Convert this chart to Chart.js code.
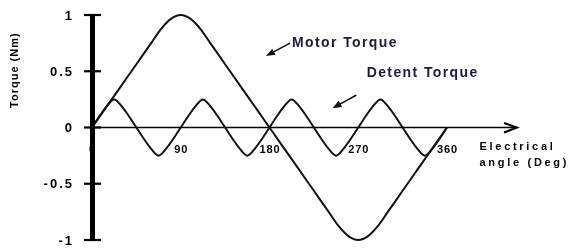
<!DOCTYPE html>
<html lang="en">
<head>
<meta charset="UTF-8">
<title>Motor and Detent Torque</title>
<script src="https://cdn.jsdelivr.net/npm/chart.js"></script>
<style>
  html, body { margin: 0; padding: 0; background: #fff; }
  #wrap { width: 570px; height: 251px; }
</style>
</head>
<body>
<div id="wrap"><canvas id="chart" width="570" height="251"></canvas></div>
<script>
// values
const motorAngles = [0,10,20,30,40,50,60,70,80,90,100,110,120,130,140,150,160,170,180,
  190,200,210,220,230,240,250,260,270,280,290,300,310,320,330,340,350,360];
const motorTorque = [0,0.125,0.25,0.375,0.5,0.625,0.75,0.875,0.965,1,0.965,0.875,0.75,0.625,0.5,0.375,0.25,0.125,0,
  -0.125,-0.25,-0.375,-0.5,-0.625,-0.75,-0.875,-0.965,-1,-0.965,-0.875,-0.75,-0.625,-0.5,-0.375,-0.25,-0.125,0];

const detentAngles = [0,7.5,15,22.5,30,37.5,45,52.5,60,67.5,75,82.5,
  90,97.5,105,112.5,120,127.5,135,142.5,150,157.5,165,172.5,
  180,187.5,195,202.5,210,217.5,225,232.5,240,247.5,255,262.5,
  270,277.5,285,292.5,300,307.5,315,322.5,330,337.5,345,352.5,360];
const detentTorque = [0,0.1,0.19,0.25,0.19,0.1,0,-0.1,-0.19,-0.25,-0.19,-0.1,
  0,0.1,0.19,0.25,0.19,0.1,0,-0.1,-0.19,-0.25,-0.19,-0.1,
  0,0.1,0.19,0.25,0.19,0.1,0,-0.1,-0.19,-0.25,-0.19,-0.1,
  0,0.1,0.19,0.25,0.19,0.1,0,-0.1,-0.19,-0.25,-0.19,-0.1,0];

const xTicks = [0, 90, 180, 270, 360];
const xTickLabels = ['0', '90', '180', '270', '360'];
const yTicks = [1, 0.5, 0, -0.5, -1];
const yTickLabels = ['1', '0.5', '0', '-0.5', '-1'];
const xTitle = ['Electrical', 'angle (Deg)'];
const yTitle = 'Torque (Nm)';
const seriesNames = ['Motor Torque', 'Detent Torque'];

const FONT = '"Liberation Sans", Arial, sans-serif';

function arrow(ctx, x1, y1, x2, y2) {
  const a = Math.atan2(y2 - y1, x2 - x1);
  ctx.lineWidth = 1.6;
  ctx.beginPath(); ctx.moveTo(x1, y1); ctx.lineTo(x2 - 6 * Math.cos(a), y2 - 6 * Math.sin(a)); ctx.stroke();
  ctx.beginPath();
  ctx.moveTo(x2, y2);
  ctx.lineTo(x2 - 9 * Math.cos(a) + 3.5 * Math.sin(a), y2 - 9 * Math.sin(a) - 3.5 * Math.cos(a));
  ctx.lineTo(x2 - 9 * Math.cos(a) - 3.5 * Math.sin(a), y2 - 9 * Math.sin(a) + 3.5 * Math.cos(a));
  ctx.closePath(); ctx.fill();
}

const axesPlugin = {
  id: 'axes',
  beforeDatasetsDraw(chart) {
    const { ctx, scales: { x, y } } = chart;
    const x0 = x.getPixelForValue(0), y0 = y.getPixelForValue(0);
    ctx.save();
    ctx.fillStyle = '#000';
    ctx.strokeStyle = '#000';

    // x tick labels (the 0 ends up under the y axis)
    ctx.font = 'bold 11px ' + FONT;
    ctx.letterSpacing = '0.8px';
    ctx.textAlign = 'center';
    ctx.textBaseline = 'middle';
    xTicks.forEach((v, i) => ctx.fillText(xTickLabels[i], x.getPixelForValue(v) + 0.5, y0 + 22));

    // x axis with open arrow head
    const xEnd = x.getPixelForValue(431);
    ctx.lineWidth = 1.5;
    ctx.beginPath(); ctx.moveTo(x0, y0); ctx.lineTo(xEnd, y0); ctx.stroke();
    ctx.lineWidth = 2;
    ctx.beginPath();
    ctx.moveTo(xEnd - 13, y0 - 4.5); ctx.lineTo(xEnd, y0); ctx.lineTo(xEnd - 13, y0 + 5);
    ctx.stroke();

    // thick y axis
    ctx.lineWidth = 5;
    ctx.beginPath();
    ctx.moveTo(x0 + 0.5, y.getPixelForValue(1) - 1);
    ctx.lineTo(x0 + 0.5, y.getPixelForValue(-1) + 1);
    ctx.stroke();
    ctx.lineWidth = 2.2;
    ctx.font = 'bold 13px ' + FONT;
    ctx.letterSpacing = '2px';
    ctx.textAlign = 'right';
    yTicks.forEach((v, i) => {
      const py = y.getPixelForValue(v);
      ctx.beginPath(); ctx.moveTo(x0 - 8, py); ctx.lineTo(x0 + 9, py); ctx.stroke();
      ctx.fillText(yTickLabels[i], x0 - 18, py + 1);
    });

    // y title
    ctx.save();
    ctx.translate(x.getPixelForValue(-78.6), y.getPixelForValue(0.51));
    ctx.rotate(-Math.PI / 2);
    ctx.font = 'bold 11px ' + FONT;
    ctx.letterSpacing = '1px';
    ctx.textAlign = 'center';
    ctx.fillText(yTitle, 0, 0);
    ctx.restore();

    // x title
    ctx.font = 'bold 11px ' + FONT;
    ctx.letterSpacing = '2.7px';
    ctx.textAlign = 'left';
    ctx.fillText(xTitle[0], x.getPixelForValue(393), y.getPixelForValue(-0.173));
    ctx.fillText(xTitle[1], x.getPixelForValue(393), y.getPixelForValue(-0.316));
    ctx.restore();
  },
  afterDatasetsDraw(chart) {
    const { ctx, scales: { x, y } } = chart;
    ctx.save();
    ctx.fillStyle = '#1b1b40';
    ctx.strokeStyle = '#1b1b40';
    ctx.font = 'bold 14px ' + FONT;
    ctx.letterSpacing = '1.4px';
    ctx.textAlign = 'left';
    ctx.textBaseline = 'middle';
    ctx.fillText(seriesNames[0], x.getPixelForValue(202.8), y.getPixelForValue(0.75));
    ctx.fillText(seriesNames[1], x.getPixelForValue(278.5), y.getPixelForValue(0.485));
    ctx.fillStyle = '#111';
    ctx.strokeStyle = '#111';
    arrow(ctx, x.getPixelForValue(200.8), y.getPixelForValue(0.75),
      x.getPixelForValue(176.4), y.getPixelForValue(0.636));
    arrow(ctx, x.getPixelForValue(268.2), y.getPixelForValue(0.289),
      x.getPixelForValue(243.9), y.getPixelForValue(0.171));
    ctx.restore();
  }
};

const ctx = document.getElementById('chart').getContext('2d');
new Chart(ctx, {
  type: 'line',
  data: {
    datasets: [{
      label: seriesNames[0],
      data: motorAngles.map((a, i) => ({ x: a, y: motorTorque[i] })),
      borderColor: '#111',
      borderWidth: 2,
      pointRadius: 0,
      cubicInterpolationMode: 'monotone',
      clip: false
    }, {
      label: seriesNames[1],
      data: detentAngles.map((a, i) => ({ x: a, y: detentTorque[i] })),
      borderColor: '#111',
      borderWidth: 2,
      pointRadius: 0,
      cubicInterpolationMode: 'monotone',
      clip: false
    }]
  },
  options: {
    responsive: false,
    animation: false,
    layout: { padding: { left: 92, right: 123, top: 15, bottom: 11 } },
    plugins: { legend: { display: false }, tooltip: { enabled: false } },
    scales: {
      x: { type: 'linear', min: 0, max: 360, display: false },
      y: { min: -1, max: 1, display: false }
    }
  },
  plugins: [axesPlugin]
});
</script>
</body>
</html>
